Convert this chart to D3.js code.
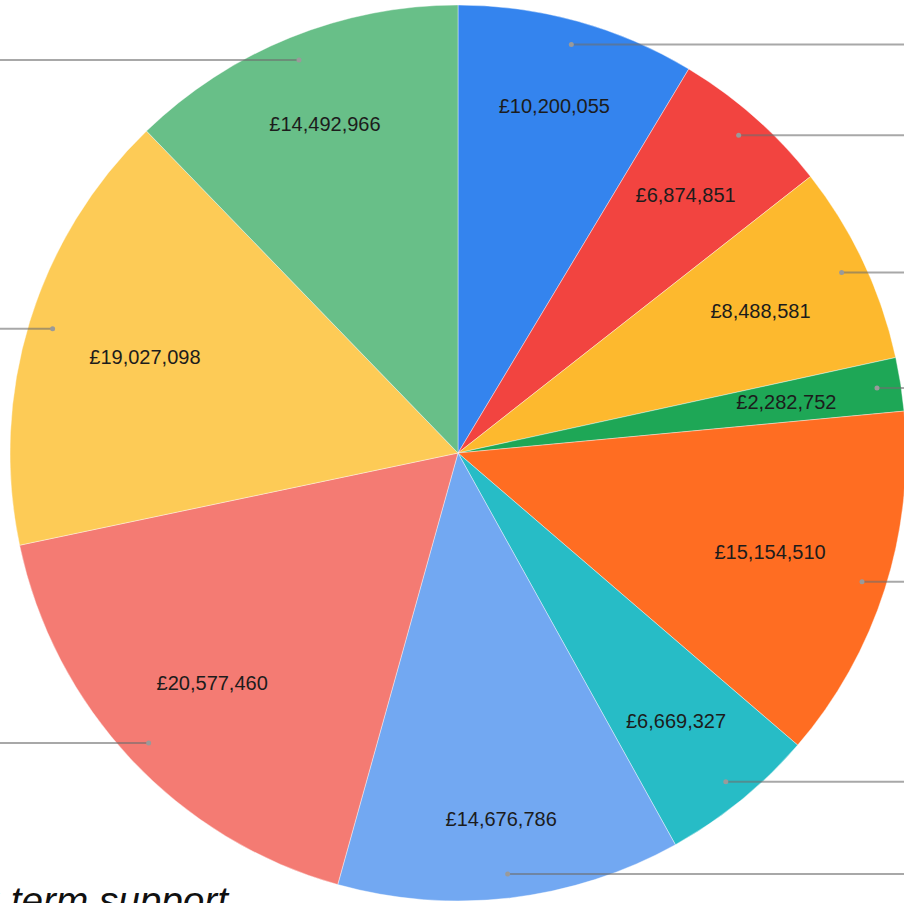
<!DOCTYPE html>
<html>
<head>
<meta charset="utf-8">
<script src="https://cdn.jsdelivr.net/npm/d3@7"></script>
<style>
  html, body { margin: 0; padding: 0; background: #fff; overflow: hidden; }
  svg { display: block; }
</style>
</head>
<body>
<div id="chart"></div>
<script>
// slice values, clockwise from 12 o'clock
const values = [10200055, 6874851, 8488581, 2282752, 15154510, 6669327, 14676786, 20577460, 19027098, 14492966];
const colors = ['#3484ee', '#f24440', '#fdb92e', '#1ea756', '#ff6d22', '#27bcc6', '#72a8f2', '#f47b73', '#fdcb56', '#68bf88'];
const caption = 'long term support';

const W = 904, H = 903;
const cx = 458, cy = 453, R = 448;

const svg = d3.select('#chart').append('svg')
  .attr('width', W)
  .attr('height', H);

const g = svg.append('g').attr('transform', `translate(${cx},${cy})`);

const pie = d3.pie().sort(null).value(d => d);
const arcs = pie(values);
const arc = d3.arc().innerRadius(0).outerRadius(R);

g.selectAll('path.slice')
  .data(arcs)
  .enter()
  .append('path')
  .attr('class', 'slice')
  .attr('d', arc)
  .attr('fill', (d, i) => colors[i])
  .attr('stroke', '#fff')
  .attr('stroke-width', 0.4);

const fmt = v => '£' + d3.format(',')(v);

// value labels: box pushed out until its far edge touches a fixed radius
const labels = g.selectAll('text.val')
  .data(arcs)
  .enter()
  .append('text')
  .attr('class', 'val')
  .attr('text-anchor', 'middle')
  .attr('dominant-baseline', 'central')
  .attr('font-family', 'Liberation Sans, Arial, sans-serif')
  .attr('font-size', 20)
  .attr('fill', '#1c1c1c')
  .text(d => fmt(d.value));

const rFar = 383, hh = 8;
labels.each(function(d) {
  const a = (d.startAngle + d.endAngle) / 2;
  const hw = this.getComputedTextLength() / 2;
  const s = Math.sin(a), c = Math.cos(a);
  const r = rFar - (Math.abs(s) * hw + Math.abs(c) * hh);
  d3.select(this).attr('x', r * s).attr('y', -r * c);
});

// leader lines (their labels sit outside the picture)
const rDot = 424;
const leaders = g.selectAll('g.leader')
  .data(arcs)
  .enter()
  .append('g')
  .attr('class', 'leader');

leaders.append('line')
  .attr('x1', d => rDot * Math.sin((d.startAngle + d.endAngle) / 2))
  .attr('y1', d => -rDot * Math.cos((d.startAngle + d.endAngle) / 2))
  .attr('x2', d => Math.sin((d.startAngle + d.endAngle) / 2) > 0 ? W - cx + 10 : -cx - 10)
  .attr('y2', d => -rDot * Math.cos((d.startAngle + d.endAngle) / 2))
  .attr('stroke', '#6e6e6e')
  .attr('stroke-opacity', 0.6)
  .attr('stroke-width', 2);

leaders.append('circle')
  .attr('cx', d => rDot * Math.sin((d.startAngle + d.endAngle) / 2))
  .attr('cy', d => -rDot * Math.cos((d.startAngle + d.endAngle) / 2))
  .attr('r', 2.5)
  .attr('fill', '#9a9a9a');

// cropped caption in the lower left
svg.append('text')
  .attr('x', 228)
  .attr('y', 914)
  .attr('text-anchor', 'end')
  .attr('font-family', 'Liberation Sans, Arial, sans-serif')
  .attr('font-style', 'italic')
  .attr('font-size', 38.7)
  .attr('fill', '#111')
  .text(caption);
</script>
</body>
</html>
